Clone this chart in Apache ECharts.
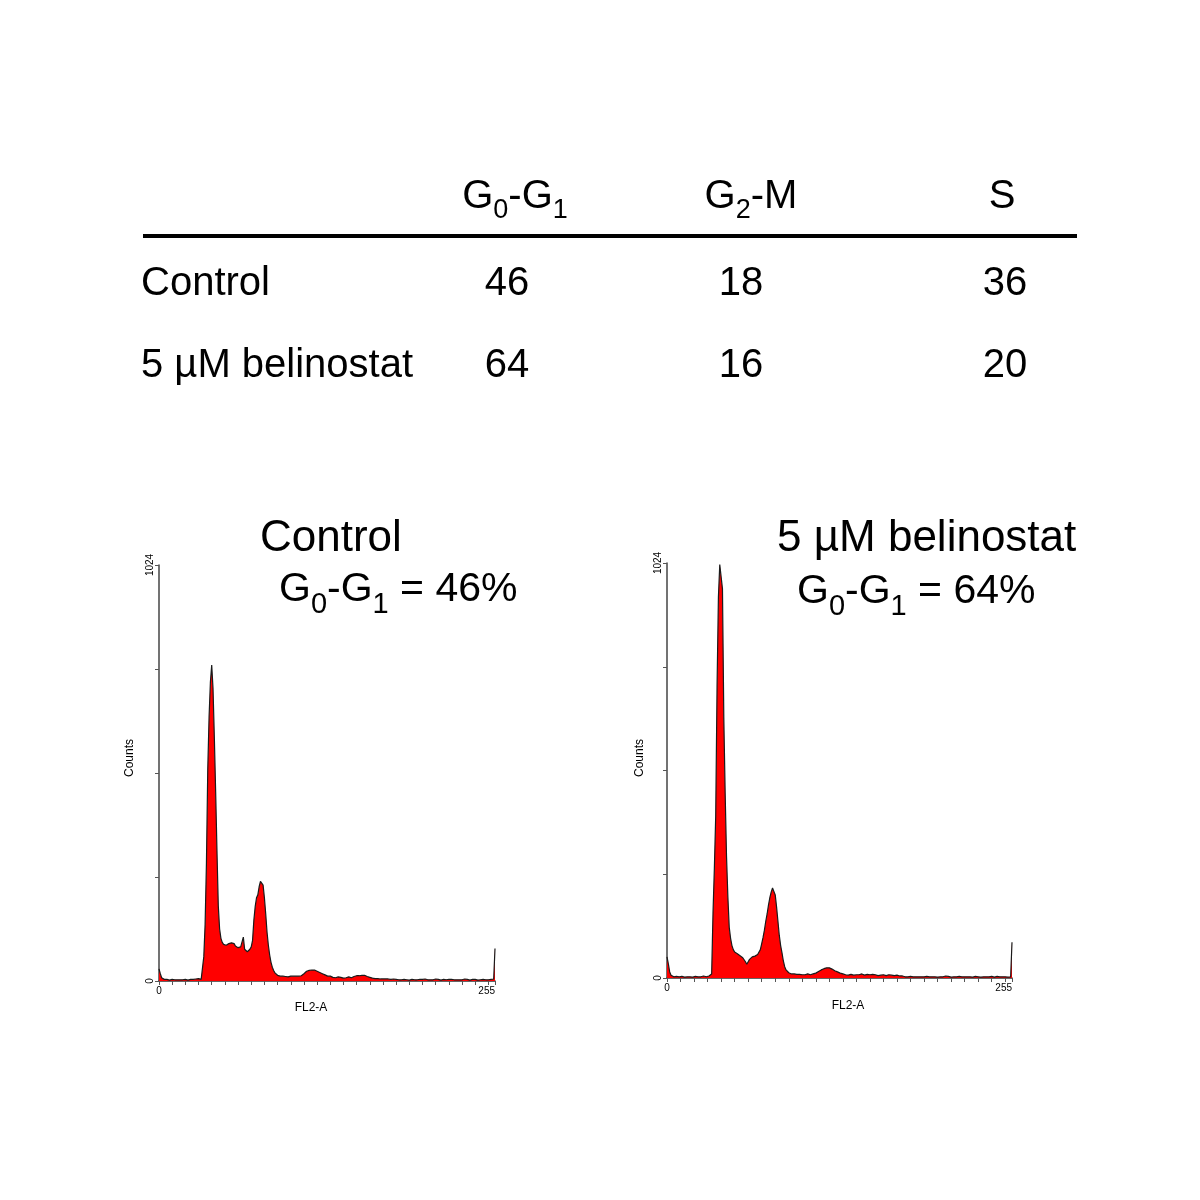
<!DOCTYPE html>
<html>
<head>
<meta charset="utf-8">
<script src="https://cdn.jsdelivr.net/npm/echarts@6/dist/echarts.min.js"></script>
<style>html,body{margin:0;padding:0;background:#fff}#c{width:1200px;height:1200px}</style>
</head>
<body>
<div id="c"></div>
<script>
// ---------- data ----------
const tableHeaders = ['G_0-G_1', 'G_2-M', 'S'];
const tableRows = ['Control', '5 µM belinostat'];
const g0g1Values = [46, 64];
const g2mValues = [18, 16];
const sValues = [36, 20];
const panelTitles = ['Control', '5 µM belinostat'];
const panelSubtitles = ['G_0-G_1 = 46%', 'G_0-G_1 = 64%'];
const xAxisName = 'FL2-A';
const yAxisName = 'Counts';
const xTickLabels = [0, 255];
const yTickLabels = [0, 1024];

// Control histogram, channels 0..255
const ctrlCounts = [].concat(
  [30, 18, 8, 5],
  [4,3,4,3,2,3,4,3,3,2,3,4,3,2,3,3,4,3,2,3,4,5,4,3,5,4,6,5,4],
  [8,60,140,290,520,650,735,778,720,600],
  [465,320,185,128,105,95,90,87,88,90],
  [92,90,94,97,92,86,84,82,80,84],
  [88,108,78,76,72,74,78,84,100,150],
  [183,205,212,232,245,249,236,205,165,120],
  [88,64,46,34,26,20,16,14],
  [13,12,11,12,13,11,12,10,11,12,13,12,11,12,10,12,13],
  [13,15,18,21,24,25,26,28,27,29,27,26,24,22,21,19,18,16,15,13,12,11,12,10,9],
  [9,8,9,10,8,9,8,7,9,8,9,10,9,8,10],
  [11,12,13,14,13,15,14,13,14,12,11,10,9],
  [8,7,8,6,7,6,7,5,6,5,6,5,4,5,4],
  [4,3,5,3,4,2,3,4,3,5, 4,3,3,4,2,3,4,5,3,4, 3,2,4,3,4,3,5,4,3,2, 3,4,3,4,5,3,4,3,2,3,
   4,3,3,5,4,3,4,2,3,4, 3,4,3,2,3,4,5,3,4,3, 2,3,4,3,4,3,2,4,3,3, 4,2,3,4,3,3,4,3,5],
  [80]
);

// 5 µM belinostat histogram, channels 0..255
const belCounts = [].concat(
  [52, 35, 15, 7],
  [4,3,3,4,2,3,3,4,3,2,3,3,4,3,3,2,3,4,3,3,4,3,4,5,4,3,4,5,6],
  [10,160,270,400,720,940,1020,1022,960,640],
  [455,300,200,125,98,80,70,64,66,60],
  [58,55,52,50,46,40,34,40,46,48],
  [52,50,54,56,58,62,70,85,100,118],
  [140,158,180,198,212,222,225,205,175,140],
  [105,80,62,42,28,20,16,13],
  [11,10,9,10,8,9,8,9,10,8,9,8,9,10,9,8,9,10,11,12],
  [14,16,18,20,22,23,24,25,26,25,24,22,20,18,16,15,13,12,11,10,9],
  [8,9,7,8,9,8,7,9,8,7, 8,9,10,8,7,8,9,7,8,8, 9,7,8,7,6,8,7,9,8,7, 6,7,8,6,7,8,6,5,7,6, 5,6,5,6],
  [3,4,3,2,4,3,3,5,3,4, 3,2,3,4,3,3,4,5,3,2, 3,4,3,3,2,4,3,4,3,3, 5,3,4,3,2,3,3,4,3,2,
   4,3,3,4,3,2,3,4,3,3, 2,3,4,3,3,4,2,3,3,4, 3,2,3,3,4,3,2,3,4,3, 3,2,3,4,3,3,2,4,3],
  [88]
);

// ---------- helpers ----------
const FONT = '"Liberation Sans", Arial, Helvetica, sans-serif';
function richText(s) {
  return s.split(/_(\d)/).map((t, i) => t === '' ? '' : (i % 2 ? '{s|' + t + '}' : '{m|' + t + '}')).join('');
}
function richStyles(main, sub, lhMain, lhSub) {
  return {
    m: { fontSize: main, fontFamily: FONT, color: '#000', lineHeight: lhMain, verticalAlign: 'middle' },
    s: { fontSize: sub, fontFamily: FONT, color: '#000', lineHeight: lhSub, verticalAlign: 'bottom' }
  };
}
function plainText(str, x, y, size, align, rot) {
  return {
    type: 'text', x: x, y: y, rotation: rot || 0,
    style: { text: str, fontSize: size, fontFamily: FONT, fill: '#000', align: align, verticalAlign: 'middle',
             textAlign: align, textVerticalAlign: 'middle' }
  };
}
function richEl(str, x, y, main, sub, lhMain, lhSub, align) {
  return {
    type: 'text', x: x, y: y,
    style: { text: richText(str), rich: richStyles(main, sub, lhMain, lhSub), fontFamily: FONT, fill: '#000',
             align: align, verticalAlign: 'middle', textAlign: align, textVerticalAlign: 'middle' }
  };
}

// ---------- layout ----------
const headerX = [515, 751, 1002];
const headerY = 197;
const rowY = [284, 366];
const numX = [507, 741, 1005];
const numCols = [g0g1Values, g2mValues, sValues];

const graphics = [];
tableHeaders.forEach((h, i) => graphics.push(richEl(h, headerX[i], headerY, 40, 27, 54, 20, 'center')));
graphics.push({ type: 'line', shape: { x1: 143, y1: 236, x2: 1077, y2: 236 }, style: { stroke: '#000', lineWidth: 4 } });
tableRows.forEach((r, j) => {
  graphics.push(plainText(r, 141, rowY[j], 40, 'left'));
  numCols.forEach((col, i) => graphics.push(plainText(String(col[j]), numX[i], rowY[j], 40, 'center')));
});
// panel titles
const titleX = [260, 777];
const subX = [279, 797];
const subY = [590, 592];
panelTitles.forEach((t, k) => graphics.push(plainText(t, titleX[k], 539, 44, 'left')));
panelSubtitles.forEach((t, k) => graphics.push(richEl(t, subX[k], subY[k], 41, 29, 58, 22, 'left')));
// axis names
const yNameX = [130, 640];
const xNameX = [311, 848];
const xNameY = [1008, 1006];
[0, 1].forEach(k => {
  graphics.push(plainText(yAxisName, yNameX[k], 758, 12, 'center', Math.PI / 2));
  graphics.push(plainText(xAxisName, xNameX[k], xNameY[k], 12, 'center'));
});

const grids = [
  { left: 159, top: 565, width: 336, height: 416 },
  { left: 667, top: 563, width: 345, height: 415 }
];

function xAxisCfg(i) {
  return {
    gridIndex: i, type: 'value', min: 0, max: 255, interval: 10,
    axisLine: { show: true, lineStyle: { color: '#333', width: 1.5 } },
    axisTick: { show: true, length: 4, lineStyle: { color: '#555', width: 1 } },
    axisLabel: { show: true, fontSize: 10, fontFamily: FONT, color: '#000', margin: 5,
      formatter: v => xTickLabels.indexOf(v) >= 0 ? String(v) : '', alignMaxLabel: 'right' },
    splitLine: { show: false }
  };
}
function yAxisCfg(i) {
  return {
    gridIndex: i, type: 'value', min: 0, max: 1024, interval: 256,
    axisLine: { show: true, lineStyle: { color: '#444', width: 1.5 } },
    axisTick: { show: true, length: 4, lineStyle: { color: '#555', width: 1 } },
    axisLabel: { show: true, fontSize: 10, fontFamily: FONT, color: '#000', margin: 4, rotate: 90,
      formatter: v => yTickLabels.indexOf(v) >= 0 ? String(v) : '' },
    splitLine: { show: false }
  };
}
function histSeries(i, counts) {
  return {
    type: 'line', xAxisIndex: i, yAxisIndex: i,
    data: counts.map((c, ch) => [ch, c]),
    showSymbol: false, symbol: 'none', silent: true,
    lineStyle: { color: '#1a1a1a', width: 1.2 },
    areaStyle: { color: '#ff0000', opacity: 1 },
    z: 1
  };
}

const chart = echarts.init(document.getElementById('c'), null, { renderer: 'canvas' });
chart.setOption({
  backgroundColor: '#fff',
  animation: false,
  grid: grids,
  xAxis: [xAxisCfg(0), xAxisCfg(1)],
  yAxis: [yAxisCfg(0), yAxisCfg(1)],
  series: [histSeries(0, ctrlCounts), histSeries(1, belCounts)],
  graphic: { elements: graphics }
});
</script>
</body>
</html>
